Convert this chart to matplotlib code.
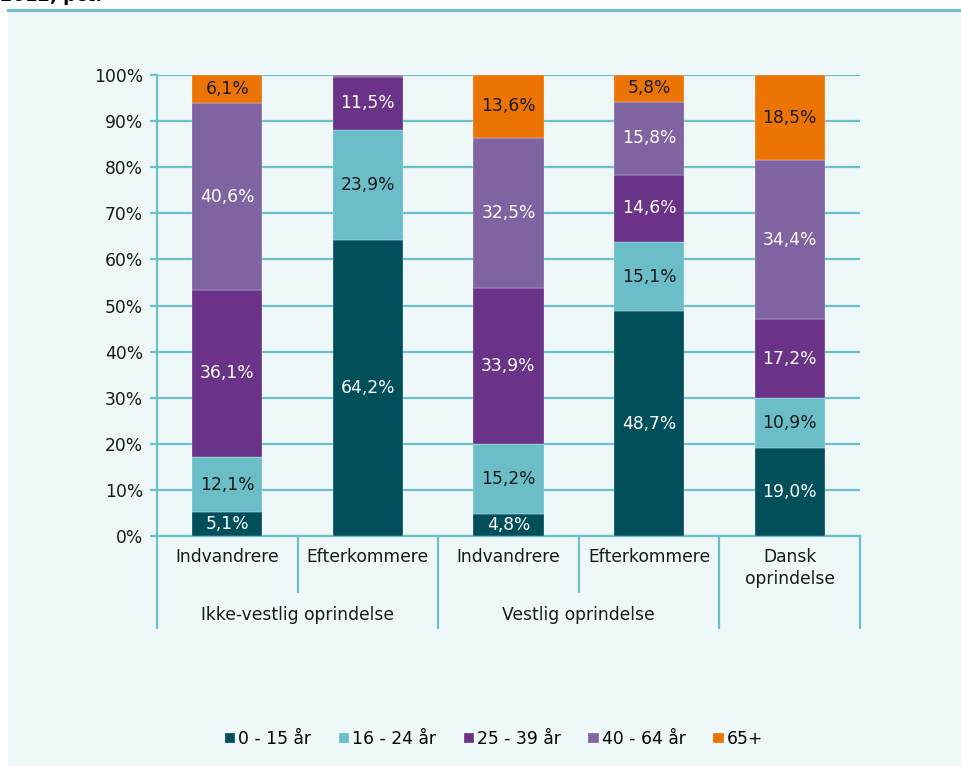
import numpy as np
import matplotlib.pyplot as plt

# data
categories = ["Indvandrere", "Efterkommere", "Indvandrere", "Efterkommere", "Dansk\noprindelse"]
groups = ["Ikke-vestlig oprindelse", "Vestlig oprindelse"]
series = ["0 - 15 år", "16 - 24 år", "25 - 39 år", "40 - 64 år", "65+"]
age_0_15 = [5.1, 64.2, 4.8, 48.7, 19.0]
age_16_24 = [12.1, 23.9, 15.2, 15.1, 10.9]
age_25_39 = [36.1, 11.5, 33.9, 14.6, 17.2]
age_40_64 = [40.6, 0.4, 32.5, 15.8, 34.4]
age_65 = [6.1, 0.0, 13.6, 5.8, 18.5]

colors = ["#004f5b", "#6bbec8", "#6a3388", "#8064a2", "#ec7405"]
label_colors = ["white", "#1a1a1a", "white", "white", "#1a1a1a"]
teal = "#6cc0ca"
bg = "#eff8f9"
fs = 12.3

values = [age_0_15, age_16_24, age_25_39, age_40_64, age_65]

fig = plt.figure(figsize=(9.61, 7.66), dpi=100)
fig.patch.set_facecolor("white")
# panel background and top rule
fig.add_artist(plt.Rectangle((8 / 961, 0), 1, 1 - 10 / 766, transform=fig.transFigure,
                             facecolor=bg, edgecolor="none", zorder=-10))
fig.add_artist(plt.Line2D([8 / 961, 1], [1 - 10 / 766, 1 - 10 / 766], color=teal, lw=2.2))
fig.text(0.0, 1 - 5 / 766, "2012, pct.", fontsize=13, fontweight="bold", va="bottom", ha="left")

ax = fig.add_axes([157 / 961, 1 - 536 / 766, (860 - 157) / 961, (536 - 75) / 766])
ax.set_facecolor(bg)

x = np.arange(len(categories))
bottom = np.zeros(len(categories))
for vals, col, lc, name in zip(values, colors, label_colors, series):
    vals = np.array(vals)
    ax.bar(x, vals, 0.5, bottom=bottom, color=col, label=name, zorder=3,
           edgecolor=bg, linewidth=0.2)
    for xi, v, b in zip(x, vals, bottom):
        if v >= 1:
            ax.text(xi, b + v / 2, f"{v:.1f}".replace(".", ",") + "%", ha="center", va="center",
                    color=lc, fontsize=fs, zorder=4)
    bottom += vals

ax.set_xlim(-0.5, len(categories) - 0.5)
ax.set_ylim(0, 100)
ax.set_yticks(np.arange(0, 101, 10))
ax.set_yticklabels([f"{t}%" for t in range(0, 101, 10)], fontsize=fs, color="#1a1a1a")
ax.yaxis.grid(True, color=teal, lw=1.6, zorder=1)
ax.tick_params(axis="y", length=5, color=teal, width=1.6, pad=5)
ax.set_xticks([])
for s in ["top", "right"]:
    ax.spines[s].set_visible(False)
ax.spines["left"].set_color(teal)
ax.spines["left"].set_linewidth(1.6)
ax.spines["bottom"].set_color(teal)
ax.spines["bottom"].set_linewidth(1.6)

# two-level category axis
trans = ax.get_xaxis_transform()
px = 1 / (536 - 75)
for b in [0.5, 2.5]:
    ax.plot([b, b], [0, -56 * px], transform=trans, color=teal, lw=1.6, clip_on=False)
for b in [-0.5, 1.5, 3.5, 4.5]:
    ax.plot([b, b], [0, -92 * px], transform=trans, color=teal, lw=1.6, clip_on=False)
for xi, cat in enumerate(categories):
    ax.text(xi, -12 * px, cat, transform=trans, ha="center", va="top", fontsize=fs,
            color="#1a1a1a", linespacing=1.25)
for gi, g in enumerate(groups):
    ax.text(0.5 + 2 * gi, -70 * px, g, transform=trans, ha="center", va="top", fontsize=fs,
            color="#1a1a1a")

leg = fig.legend(loc="center", bbox_to_anchor=(494 / 961, 1 - 739 / 766), ncol=5, frameon=False,
                 fontsize=fs, handlelength=0.6, handleheight=0.6, handletextpad=0.2,
                 columnspacing=1.6)

fig.savefig("out.png", dpi=100, facecolor=fig.get_facecolor())
